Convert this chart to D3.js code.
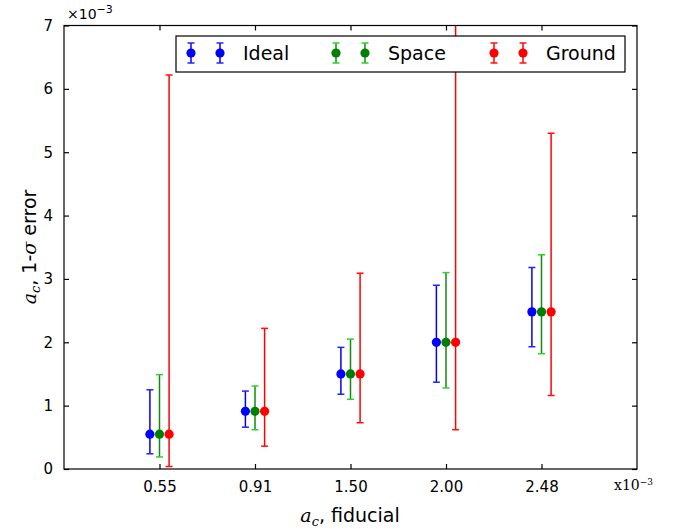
<html>
<head>
<script src="https://cdn.jsdelivr.net/npm/d3@7"></script>
<style>
  body { margin: 0; background: white; }
  text { font-family: "DejaVu Sans", sans-serif; fill: black; }
</style>
</head>
<body>
<script>
// values are in units of 1e-3
var categories = ["0.55", "0.91", "1.50", "2.00", "2.48"];
var fiducial = [0.55, 0.91, 1.50, 2.00, 2.48];
var seriesNames = ["Ideal", "Space", "Ground"];
var idealLow = [0.24, 0.66, 1.18, 1.37, 1.93];
var idealHigh = [1.25, 1.23, 1.92, 2.90, 3.18];
var spaceLow = [0.19, 0.62, 1.10, 1.28, 1.82];
var spaceHigh = [1.49, 1.31, 2.05, 3.10, 3.38];
var groundLow = [0.04, 0.36, 0.73, 0.62, 1.16];
var groundHigh = [6.22, 2.22, 3.09, 7.60, 5.30];
var yTicks = [0, 1, 2, 3, 4, 5, 6, 7];

var series = [
  {name: "Ideal", low: idealLow, high: idealHigh, marker: "#0000ff", bar: "#0000ff", cap: "#2222ff"},
  {name: "Space", low: spaceLow, high: spaceHigh, marker: "#007f00", bar: "#128a12", cap: "#22d822"},
  {name: "Ground", low: groundLow, high: groundHigh, marker: "#ff0000", bar: "#ff0000", cap: "#ff1010"}
];

var W = 678, H = 529;
var m = {left: 64, top: 25.5, right: 637, bottom: 469};

var svg = d3.select("body").append("svg").attr("width", W).attr("height", H);

var x = d3.scaleLinear().domain([0, 6]).range([m.left, m.right]);
var y = d3.scaleLinear().domain([0, 7]).range([m.bottom, m.top]);
var offset = 9.6;

svg.append("clipPath").attr("id", "clip").append("rect")
  .attr("x", m.left).attr("y", m.top)
  .attr("width", m.right - m.left).attr("height", m.bottom - m.top);

var plot = svg.append("g").attr("clip-path", "url(#clip)");

series.forEach(function(s, si) {
  var g = plot.append("g");
  fiducial.forEach(function(v, i) {
    var cx = x(i + 1) + (si - 1) * offset;
    g.append("line").attr("x1", cx).attr("x2", cx)
      .attr("y1", y(s.low[i])).attr("y2", y(s.high[i]))
      .attr("stroke", s.bar).attr("stroke-width", 1.5);
    [s.low[i], s.high[i]].forEach(function(e) {
      g.append("line").attr("x1", cx - 3.5).attr("x2", cx + 3.5)
        .attr("y1", y(e)).attr("y2", y(e))
        .attr("stroke", s.cap).attr("stroke-width", 1.5);
    });
    g.append("circle").attr("cx", cx).attr("cy", y(v)).attr("r", 4.6)
      .attr("fill", s.marker);
  });
});

// frame
svg.append("rect").attr("x", m.left).attr("y", m.top)
  .attr("width", m.right - m.left).attr("height", m.bottom - m.top)
  .attr("fill", "none").attr("stroke", "black").attr("stroke-width", 1.2);

// axes with inward ticks
var xAxis = d3.axisBottom(x).tickValues([1, 2, 3, 4, 5])
  .tickFormat(function(d) { return categories[d - 1]; })
  .tickSizeInner(-5).tickSizeOuter(0).tickPadding(12);
var gx = svg.append("g").attr("transform", "translate(0," + m.bottom + ")").call(xAxis);
var gxt = svg.append("g").attr("transform", "translate(0," + m.top + ")")
  .call(d3.axisTop(x).tickValues([1, 2, 3, 4, 5]).tickFormat("").tickSizeInner(-5).tickSizeOuter(0));

var yAxis = d3.axisLeft(y).tickValues(yTicks).tickFormat(d3.format("d"))
  .tickSizeInner(-5).tickSizeOuter(0).tickPadding(11);
var gy = svg.append("g").attr("transform", "translate(" + m.left + ",0)").call(yAxis);
var gyr = svg.append("g").attr("transform", "translate(" + m.right + ",0)")
  .call(d3.axisRight(y).tickValues(yTicks).tickFormat("").tickSizeInner(-5).tickSizeOuter(0));

[gx, gxt, gy, gyr].forEach(function(g) {
  g.select(".domain").remove();
  g.selectAll("line").attr("stroke", "black").attr("stroke-width", 1.2);
  g.selectAll("text").style("font-size", "15px").style("font-family", "DejaVu Sans, sans-serif");
});

// multipliers
var mt = svg.append("text").attr("x", 67).attr("y", 19).style("font-size", "14px");
mt.append("tspan").text("\u00d710");
mt.append("tspan").attr("dy", -6).style("font-size", "11px").text("\u22123");

var mb = svg.append("text").attr("x", 614).attr("y", 490)
  .style("font-size", "14px").style("font-family", "DejaVu Serif, serif");
mb.append("tspan").text("x10");
mb.append("tspan").attr("dy", -5).style("font-size", "9px").text("\u22123");

// axis labels
var xl = svg.append("text").attr("x", 350).attr("y", 522).attr("text-anchor", "middle")
  .style("font-size", "19px");
xl.append("tspan").style("font-family", "DejaVu Serif, serif").style("font-style", "italic").text("a");
xl.append("tspan").attr("dy", 4).style("font-size", "13px")
  .style("font-family", "DejaVu Serif, serif").style("font-style", "italic").text("c");
xl.append("tspan").attr("dy", -4).text(", fiducial");

var yl = svg.append("text").attr("transform", "translate(36,247) rotate(-90)")
  .attr("text-anchor", "middle").style("font-size", "19px");
yl.append("tspan").style("font-family", "DejaVu Serif, serif").style("font-style", "italic").text("a");
yl.append("tspan").attr("dy", 4).style("font-size", "13px")
  .style("font-family", "DejaVu Serif, serif").style("font-style", "italic").text("c");
yl.append("tspan").attr("dy", -4).text(", 1-");
yl.append("tspan").style("font-family", "DejaVu Serif, serif").style("font-style", "italic").text("\u03c3");
yl.append("tspan").text(" error");

// legend
var lg = svg.append("g");
lg.append("rect").attr("x", 176).attr("y", 36).attr("width", 449).attr("height", 36)
  .attr("fill", "white").attr("stroke", "black").attr("stroke-width", 1.2);
var legendX = [191, 336, 494];
series.forEach(function(s, si) {
  [0, 29].forEach(function(dx) {
    var cx = legendX[si] + dx;
    lg.append("line").attr("x1", cx).attr("x2", cx).attr("y1", 43).attr("y2", 63)
      .attr("stroke", s.bar).attr("stroke-width", 1.5);
    [43, 63].forEach(function(cy) {
      lg.append("line").attr("x1", cx - 3.5).attr("x2", cx + 3.5).attr("y1", cy).attr("y2", cy)
        .attr("stroke", s.cap).attr("stroke-width", 1.5);
    });
    lg.append("circle").attr("cx", cx).attr("cy", 53).attr("r", 4.6).attr("fill", s.marker);
  });
  lg.append("text").attr("x", legendX[si] + 52).attr("y", 60).style("font-size", "19px").text(s.name);
});
</script>
</body>
</html>
